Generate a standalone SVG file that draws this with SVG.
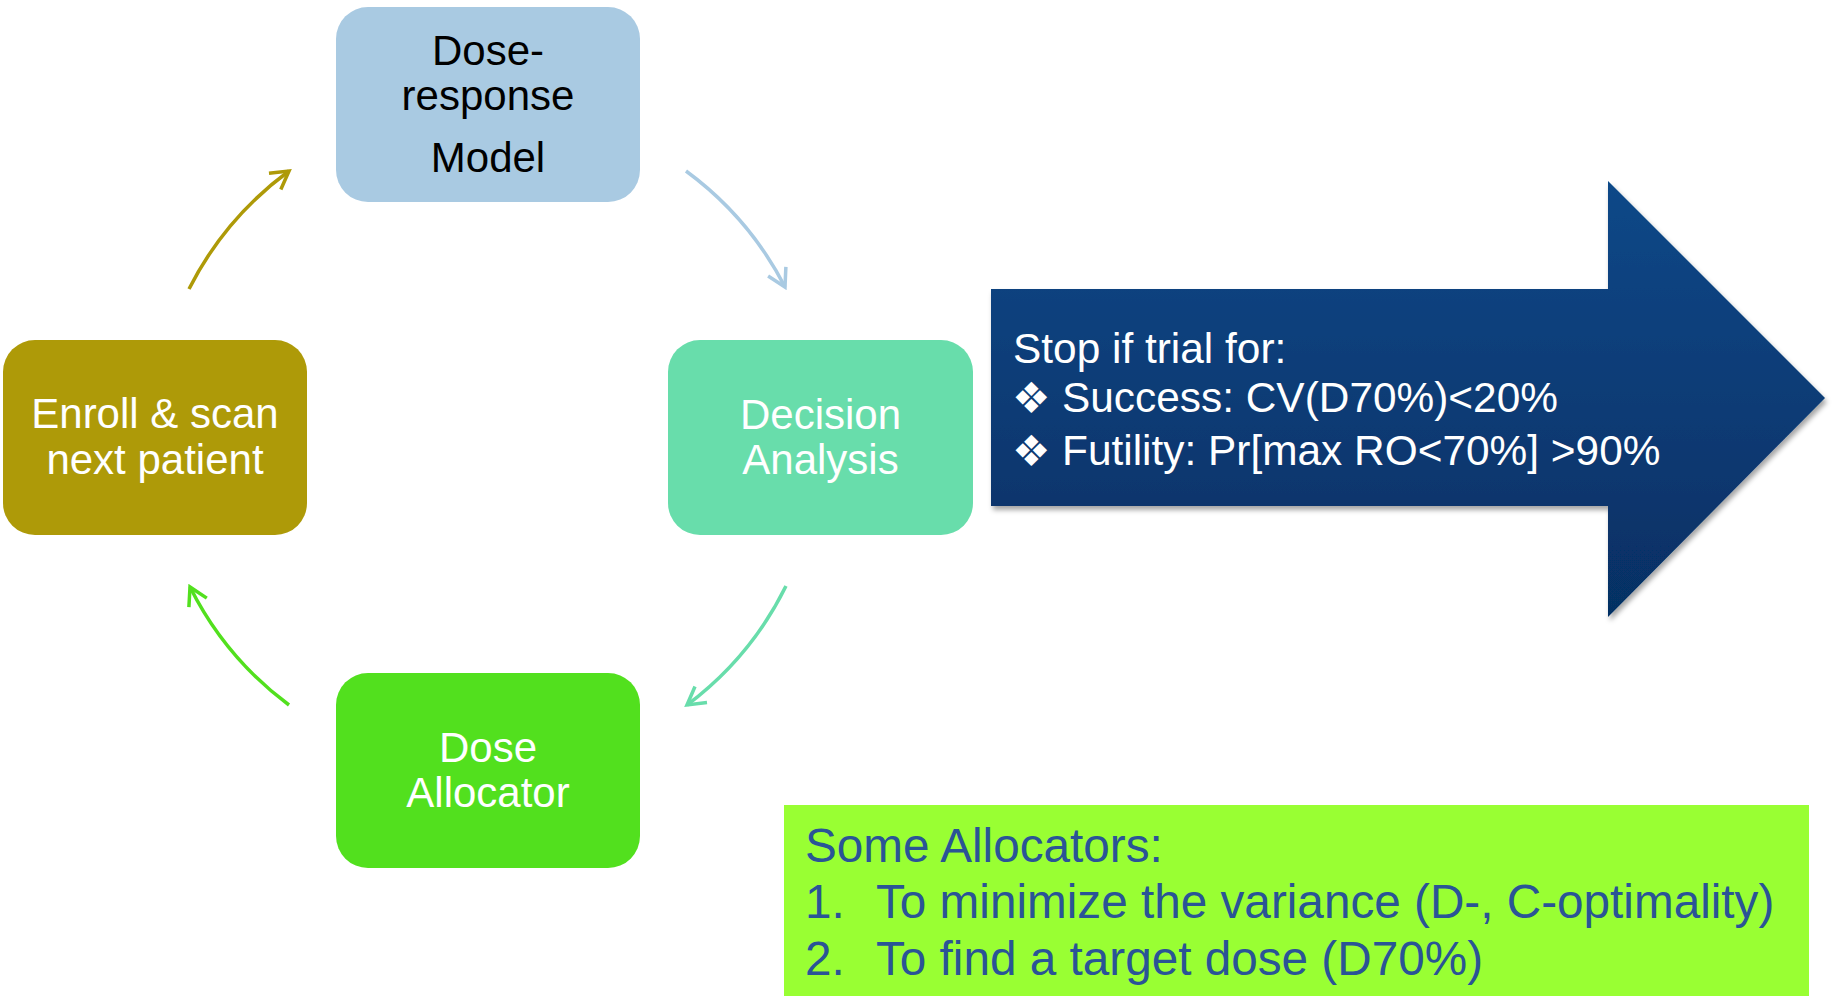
<svg xmlns="http://www.w3.org/2000/svg" width="1832" height="996" viewBox="0 0 1832 996">
  <style>
    .lbl { font-family: "Liberation Sans", Arial, sans-serif; font-size: 42px; text-anchor: middle; }
    .w { fill: #ffffff; }
    .k { fill: #000000; }
    .stop { font-family: "Liberation Sans", Arial, sans-serif; font-size: 42.4px; fill: #ffffff; }
    .bul { font-family: "DejaVu Sans", sans-serif; font-size: 43px; fill: #ffffff; }
    .alloc { font-family: "Liberation Sans", Arial, sans-serif; font-size: 47.7px; fill: #2A5496; }
    .conn { fill: none; stroke-width: 3.5; }
  </style>
  <defs>
    <linearGradient id="arrowFill" gradientUnits="userSpaceOnUse" x1="0" y1="181" x2="0" y2="617">
      <stop offset="0" stop-color="#0C4888"/>
      <stop offset="1" stop-color="#062F63"/>
    </linearGradient>
    <filter id="shadow" x="-5%" y="-5%" width="110%" height="115%">
      <feDropShadow dx="2" dy="4" stdDeviation="2.5" flood-color="#000000" flood-opacity="0.35"/>
    </filter>
    <marker id="mOlive" markerUnits="userSpaceOnUse" viewBox="-22 -13 25 26" markerWidth="25" markerHeight="26" refX="0" refY="0" orient="auto">
      <path d="M -17.5 -10 L 0 0 L -17.5 10" fill="none" stroke="#AE9A08" stroke-width="3.5"/>
    </marker>
    <marker id="mBlue" markerUnits="userSpaceOnUse" viewBox="-22 -13 25 26" markerWidth="25" markerHeight="26" refX="0" refY="0" orient="auto">
      <path d="M -17.5 -10 L 0 0 L -17.5 10" fill="none" stroke="#A9CAE2" stroke-width="3.5"/>
    </marker>
    <marker id="mTeal" markerUnits="userSpaceOnUse" viewBox="-22 -13 25 26" markerWidth="25" markerHeight="26" refX="0" refY="0" orient="auto">
      <path d="M -17.5 -10 L 0 0 L -17.5 10" fill="none" stroke="#68DDAB" stroke-width="3.5"/>
    </marker>
    <marker id="mGreen" markerUnits="userSpaceOnUse" viewBox="-22 -13 25 26" markerWidth="25" markerHeight="26" refX="0" refY="0" orient="auto">
      <path d="M -17.5 -10 L 0 0 L -17.5 10" fill="none" stroke="#52E01E" stroke-width="3.5"/>
    </marker>
  </defs>

  <rect width="1832" height="996" fill="#ffffff"/>

  <!-- cycle connectors: arcs on a circle centred at (488,437) -->
  <g id="connectors">
    <path class="conn" stroke="#AE9A08" d="M 189 289 A 333 333 0 0 1 289 171" marker-end="url(#mOlive)"/>
    <path class="conn" stroke="#A9CAE2" d="M 686 171 A 333 333 0 0 1 785 287" marker-end="url(#mBlue)"/>
    <path class="conn" stroke="#68DDAB" d="M 786 586 A 333 333 0 0 1 687 705" marker-end="url(#mTeal)"/>
    <path class="conn" stroke="#52E01E" d="M 289 705 A 333 333 0 0 1 190 587" marker-end="url(#mGreen)"/>
  </g>

  <g id="node-model">
    <rect x="336" y="7" width="304" height="195" rx="32" fill="#A9CAE2"/>
    <text class="lbl k" x="488" y="65">Dose-</text>
    <text class="lbl k" x="488" y="110">response</text>
    <text class="lbl k" x="488" y="172">Model</text>
  </g>

  <g id="node-decision">
    <rect x="668" y="340" width="305" height="195" rx="32" fill="#68DDAB"/>
    <text class="lbl w" x="820.5" y="429">Decision</text>
    <text class="lbl w" x="820.5" y="474">Analysis</text>
  </g>

  <g id="node-allocator">
    <rect x="336" y="673" width="304" height="195" rx="32" fill="#52E01E"/>
    <text class="lbl w" x="488" y="762">Dose</text>
    <text class="lbl w" x="488" y="807">Allocator</text>
  </g>

  <g id="node-enroll">
    <rect x="3" y="340" width="304" height="195" rx="32" fill="#AE9A08"/>
    <text class="lbl w" x="155" y="428">Enroll &amp; scan</text>
    <text class="lbl w" x="155" y="474">next patient</text>
  </g>

  <g id="node-stop">
    <polygon points="991,289 1608,289 1608,181 1825,398 1608,617 1608,506 991,506" fill="url(#arrowFill)" filter="url(#shadow)"/>
    <text class="stop" x="1013" y="363">Stop if trial for:</text>
    <text class="bul" x="1012" y="413">❖</text>
    <text class="stop" x="1062" y="412">Success: CV(D70%)&lt;20%</text>
    <text class="bul" x="1012" y="466">❖</text>
    <text class="stop" x="1062" y="465">Futility: Pr[max RO&lt;70%] &gt;90%</text>
  </g>

  <g id="node-allocators">
    <rect x="784" y="805" width="1025" height="191" fill="#99FF33"/>
    <text class="alloc" x="805" y="862">Some Allocators:</text>
    <text class="alloc" x="805" y="918">1.</text>
    <text class="alloc" x="876" y="918">To minimize the variance (D-, C-optimality)</text>
    <text class="alloc" x="805" y="975">2.</text>
    <text class="alloc" x="876" y="975">To find a target dose (D70%)</text>
  </g>
</svg>
